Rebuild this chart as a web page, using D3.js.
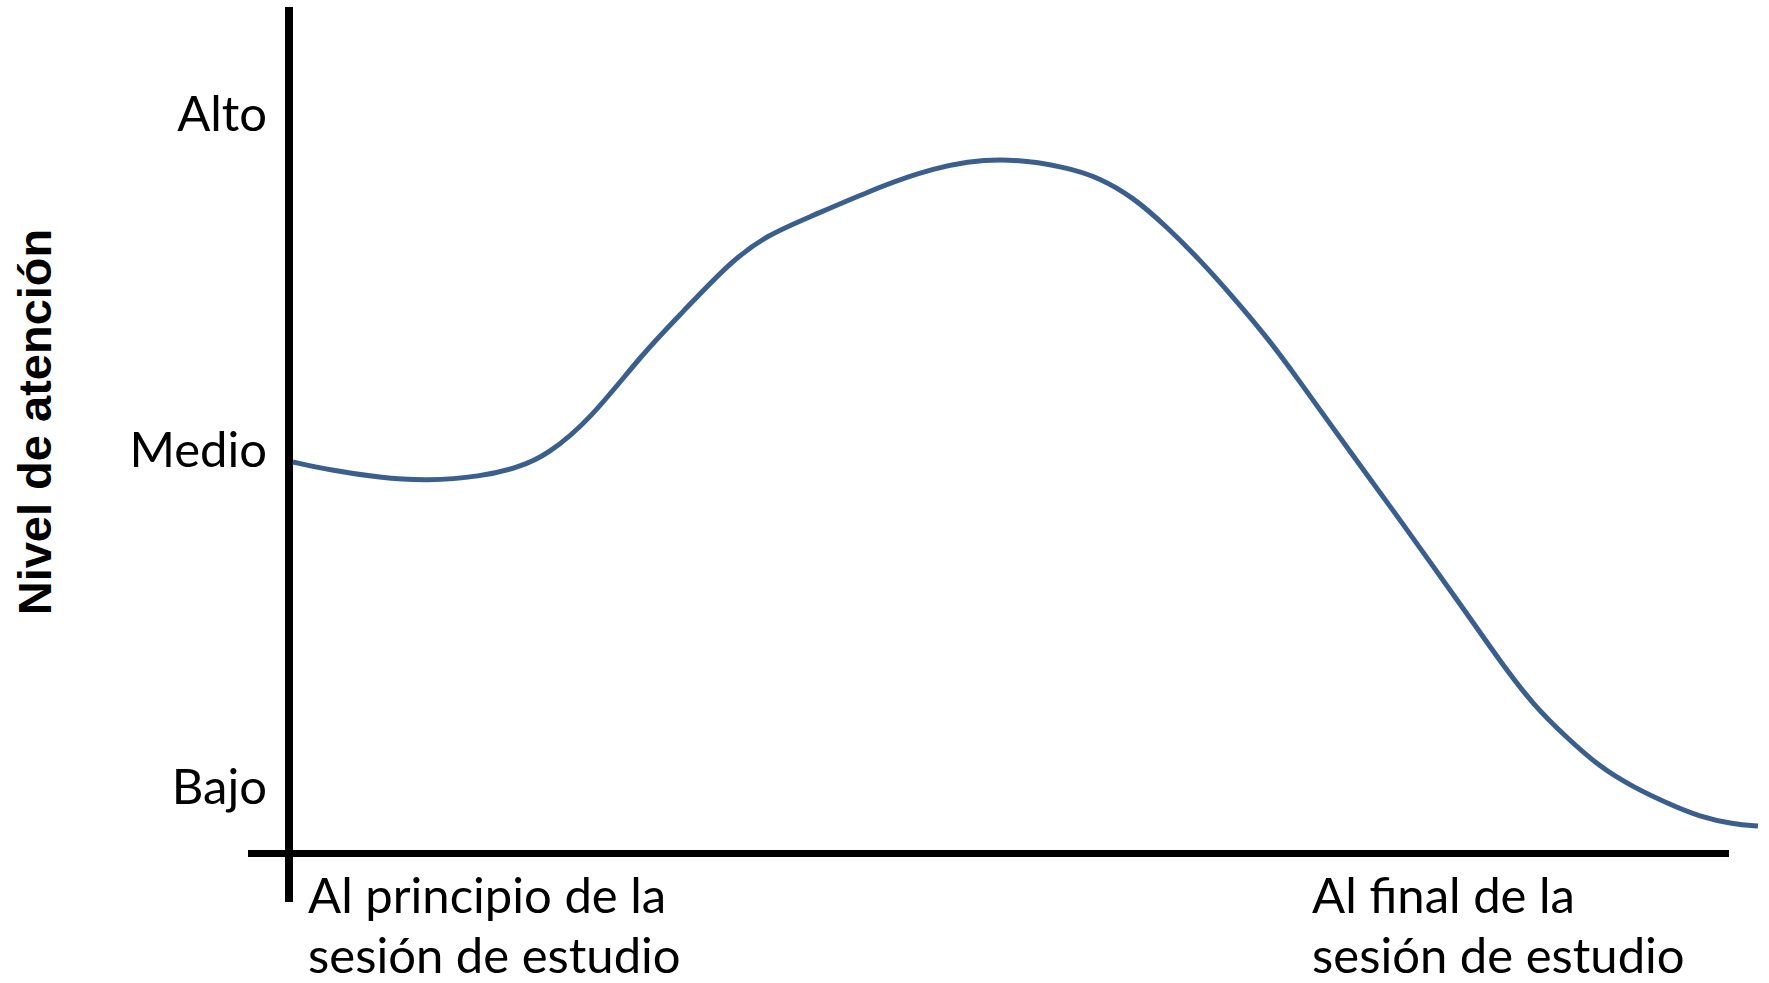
<!DOCTYPE html>
<html>
<head>
<meta charset="utf-8">
<script src="https://cdn.jsdelivr.net/npm/d3@7"></script>
<style>
  html, body { margin: 0; padding: 0; background: #ffffff; }
  svg { display: block; }
</style>
</head>
<body>
<svg id="chart" width="1769" height="983"></svg>
<script>
// ---- data ----
const timeValues = [0.27, 2.79, 6.19, 9.39, 12.99, 15.71, 17.55, 20.48, 24.08, 26.80, 30.0, 32.52, 35.44, 39.32, 43.81, 48.37, 52.93, 55.17, 57.41, 59.73, 61.97, 64.22, 66.53, 68.78, 71.02, 73.33, 75.58, 77.82, 80.14, 82.38, 84.63, 86.94, 89.18, 91.43, 93.74, 95.99, 98.23, 99.93];
const attentionValues = [0.965, 0.941, 0.918, 0.909, 0.921, 0.950, 0.986, 1.090, 1.289, 1.411, 1.559, 1.639, 1.693, 1.767, 1.841, 1.872, 1.841, 1.808, 1.752, 1.663, 1.565, 1.455, 1.336, 1.203, 1.066, 0.927, 0.793, 0.656, 0.514, 0.374, 0.244, 0.146, 0.059, 0.000, -0.048, -0.089, -0.110, -0.116];
const levelValues = [0, 1, 2];
const levelLabels = ["Bajo", "Medio", "Alto"];
const xTickValues = [1.3, 69.6];
const xTickLabels = [["Al principio de la", "sesión de estudio"], ["Al final de la", "sesión de estudio"]];
const yTitle = "Nivel de atención";

// ---- layout ----
const svg = d3.select("#chart");
const x = d3.scaleLinear().domain([0, 100]).range([289, 1759]);
const y = d3.scaleLinear().domain([0, 2]).range([787, 113.5]);

const labelFont = "Lato, 'Open Sans', sans-serif";
const labelSize = 49;

// axes lines
svg.append("line")
  .attr("x1", 289).attr("x2", 289)
  .attr("y1", 7).attr("y2", 902)
  .attr("stroke", "#000").attr("stroke-width", 8);
svg.append("line")
  .attr("x1", 248).attr("x2", 1729)
  .attr("y1", 853.5).attr("y2", 853.5)
  .attr("stroke", "#000").attr("stroke-width", 7);

// y level labels
svg.append("g").selectAll("text")
  .data(levelValues)
  .join("text")
  .attr("x", 267)
  .attr("y", d => y(d) + 17)
  .attr("text-anchor", "end")
  .attr("font-family", labelFont)
  .attr("font-size", labelSize)
  .attr("fill", "#000")
  .text((d, i) => levelLabels[i]);

// x labels
const xg = svg.append("g").selectAll("text")
  .data(xTickValues)
  .join("text")
  .attr("x", d => x(d))
  .attr("y", 913)
  .attr("font-family", labelFont)
  .attr("font-size", labelSize)
  .attr("fill", "#000");
xg.selectAll("tspan")
  .data((d, i) => xTickLabels[i].map(s => ({s, x: x(d)})))
  .join("tspan")
  .attr("x", t => t.x)
  .attr("dy", (t, j) => j === 0 ? 0 : 60)
  .text(t => t.s);

// y title
svg.append("text")
  .attr("transform", "translate(51,422) rotate(-90)")
  .attr("text-anchor", "middle")
  .attr("font-family", "'Liberation Sans', Arial, sans-serif")
  .attr("font-weight", "bold")
  .attr("font-size", 47)
  .attr("fill", "#000")
  .text(yTitle);

// curve
const line = d3.line()
  .x(d => x(d[0]))
  .y(d => y(d[1]))
  .curve(d3.curveBasis);
svg.append("path")
  .datum(timeValues.map((t, i) => [t, attentionValues[i]]))
  .attr("d", line)
  .attr("fill", "none")
  .attr("stroke", "#3A5F8D")
  .attr("stroke-width", 5)
  .attr("stroke-linecap", "butt");
</script>
</body>
</html>
